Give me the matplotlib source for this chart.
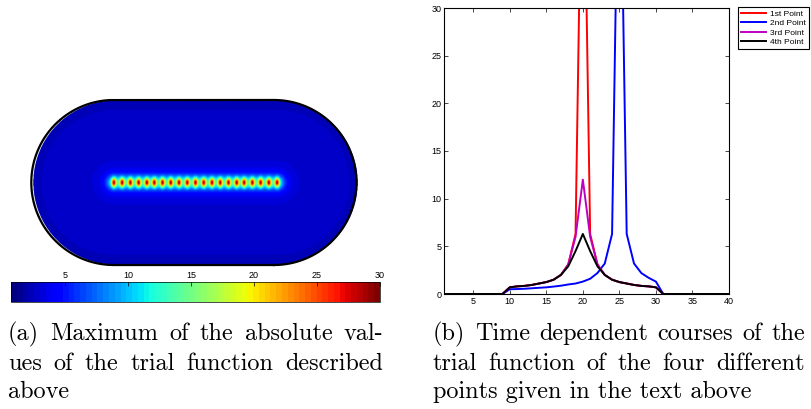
import numpy as np
import matplotlib
matplotlib.use('Agg')
import matplotlib.pyplot as plt
from matplotlib.cm import ScalarMappable
from matplotlib.colors import Normalize

W, H = 812, 409

# time steps and the four point courses
steps = list(range(1, 41))
first_pt = [0] * 9 + [0.7, 0.8, 0.85, 0.95, 1.1, 1.25, 1.5, 2.0, 3.1, 6.3, 55,
                      6.3, 3.1, 2.0, 1.5, 1.25, 1.1, 0.95, 0.85, 0.8, 0.7] + [0] * 10
second_pt = [0] * 9 + [0.5, 0.52, 0.55, 0.6, 0.65, 0.7, 0.78, 0.87, 1.0, 1.1, 1.3,
                       1.6, 2.2, 3.2, 6.3, 55, 6.3, 3.2, 2.2, 1.7, 1.3] + [0] * 10
third_pt = [0] * 9 + [0.7, 0.8, 0.85, 0.95, 1.1, 1.25, 1.5, 2.0, 3.1, 6.0, 12.0,
                      6.0, 3.1, 2.0, 1.5, 1.25, 1.1, 0.95, 0.85, 0.8, 0.7] + [0] * 10
fourth_pt = [0] * 9 + [0.7, 0.8, 0.85, 0.95, 1.1, 1.25, 1.5, 2.0, 2.9, 4.5, 6.3,
                       4.5, 2.9, 2.0, 1.5, 1.25, 1.1, 0.95, 0.85, 0.8, 0.7] + [0] * 10
series_names = ['1st Point', '2nd Point', '3rd Point', '4th Point']
series_colors = ['r', 'b', 'm', 'k']

# source points on the centre line of the stadium domain
src_x = [-0.99, -0.89, -0.79, -0.69, -0.59, -0.50, -0.40, -0.30, -0.20, -0.10, 0.0,
         0.10, 0.20, 0.30, 0.40, 0.50, 0.59, 0.69, 0.79, 0.89, 0.99]
src_amp = 16.0
cbar_ticks = [5, 10, 15, 20, 25, 30]
cmin, cmax = 0.7, 30.0

cap_a = ['(a) Maximum of the absolute val-', 'ues of the trial function described', 'above']
cap_b = ['(b) Time dependent courses of the', 'trial function of the four different',
         'points given in the text above']

plt.rcParams['font.family'] = ['Liberation Sans', 'DejaVu Sans']

fig = plt.figure(figsize=(W / 100, H / 100), dpi=100)


def px_axes(x0, y0, x1, y1):
    return fig.add_axes([x0 / W, 1 - y1 / H, (x1 - x0) / W, (y1 - y0) / H])


# ---- (a) field on the stadium ----
half = 0.97
ax1 = px_axes(28, 95, 363, 270)
xs = np.linspace(-2.03, 2.03, 1000)
ys = np.linspace(-1.06, 1.06, 520)
X, Y = np.meshgrid(xs, ys)
inside = (np.abs(X) <= half) & (np.abs(Y) <= 1) | ((np.abs(X) - half) ** 2 + Y ** 2 <= 1)

dx = np.clip(np.abs(X) - src_x[-1], 0, None)
dist = np.hypot(dx, Y)
F = 2.3 + 1.0 * np.exp(-dist / 0.6) + 3.0 * np.exp(-(dist / 0.13) ** 2) \
    + 7.0 * np.exp(-(dist / 0.075) ** 2)
for sx in src_x:
    F += src_amp * np.exp(-((X - sx) / 0.027) ** 2 - (Y / 0.055) ** 2)
F = np.ma.masked_where(~inside, F)

jet = plt.get_cmap('jet', 64).copy()
jet.set_bad((1, 1, 1, 0))
ax1.imshow(F, cmap=jet, vmin=cmin, vmax=cmax, origin='lower',
           extent=(-2.03, 2.03, -1.06, 1.06), interpolation='bilinear')

# boundary outline, drawn a touch left of the domain
t = np.linspace(-np.pi / 2, np.pi / 2, 200)
rx = half + np.cos(t)
ry = np.sin(t)
lx = -half - np.cos(t)
ly = -np.sin(t)
bx = np.concatenate([rx, lx, rx[:1]]) - 0.02
by = np.concatenate([ry, ly, ry[:1]])
ax1.plot(bx, by, color='k', lw=1.6)
ax1.set_xlim(-2.03, 2.03)
ax1.set_ylim(-1.06, 1.06)
ax1.axis('off')

# colorbar
cax = px_axes(11, 282, 380, 302)
cb = fig.colorbar(ScalarMappable(norm=Normalize(cmin, cmax), cmap=jet), cax=cax,
                  orientation='horizontal')
cb.set_ticks(cbar_ticks)
cax.xaxis.set_ticks_position('top')
cax.tick_params(direction='in', length=3, width=0.5, labelsize=6.5, pad=1.5, colors='k')
cb.outline.set_linewidth(0.5)

# ---- (b) time courses ----
ax2 = px_axes(444, 8, 729, 294)
for vals, name, col in zip([first_pt, second_pt, third_pt, fourth_pt], series_names, series_colors):
    ax2.plot(steps, vals, color=col, lw=1.4, label=name)
ax2.set_xlim(1, 40)
ax2.set_ylim(0, 30)
ax2.set_xticks([5, 10, 15, 20, 25, 30, 35, 40])
ax2.set_yticks([0, 5, 10, 15, 20, 25, 30])
ax2.tick_params(direction='in', top=True, right=True, length=3, width=0.5,
                labelsize=6.5, pad=2)
for s in ax2.spines.values():
    s.set_linewidth(0.8)
leg = ax2.legend(loc='upper left', bbox_to_anchor=(738 / W, 1 - 7 / H),
                 bbox_transform=fig.transFigure, borderaxespad=0, fontsize=6,
                 fancybox=False, framealpha=1, edgecolor='k', handlelength=3.0,
                 handletextpad=0.5, borderpad=0.35, labelspacing=0.2)
leg.get_frame().set_linewidth(0.8)

# ---- captions, justified like the typeset text ----
fig.canvas.draw()
renderer = fig.canvas.get_renderer()
cap_font = dict(family='cmr10', size=17.5)


def justified(lines, x0, x1, baselines):
    for i, (line, yb) in enumerate(zip(lines, baselines)):
        yf = 1 - yb / H
        if i == len(lines) - 1:
            fig.text(x0 / W, yf, line, va='baseline', ha='left', **cap_font)
            continue
        words = line.split(' ')
        objs = [fig.text(0, yf, w, va='baseline', ha='left', **cap_font) for w in words]
        widths = [o.get_window_extent(renderer).width for o in objs]
        gap = ((x1 - x0) - sum(widths)) / (len(words) - 1)
        pos = x0
        for o, w in zip(objs, widths):
            o.set_x(pos / W)
            pos += w + gap


justified(cap_a, 8, 383, [340, 369.5, 398])
justified(cap_b, 433, 805, [340, 369.5, 398])

fig.savefig('out.png', dpi=100)
